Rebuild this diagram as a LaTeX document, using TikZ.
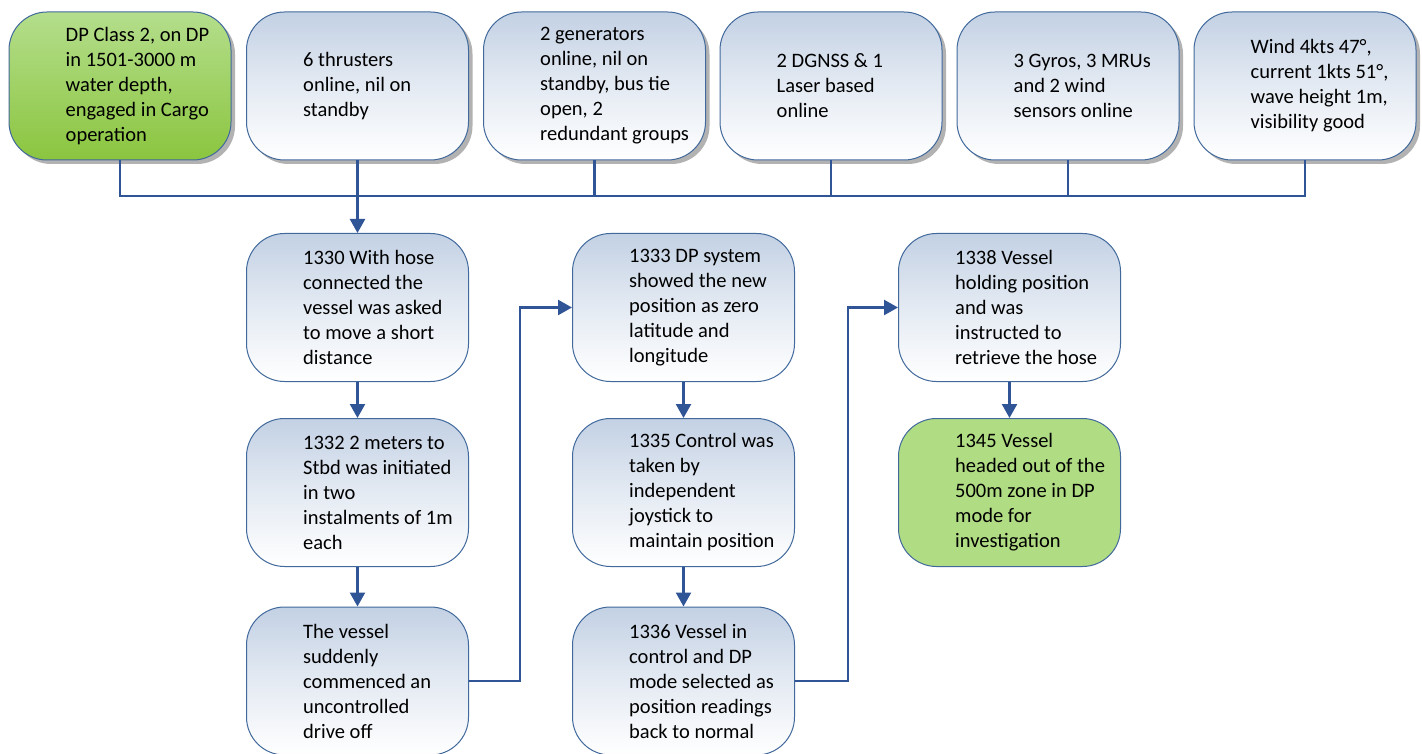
\documentclass[tikz,border=0pt]{standalone}
\usepackage{fontspec}
\setmainfont{Carlito}
\usetikzlibrary{arrows.meta,shadows}
\definecolor{lineblue}{HTML}{2F5597}
\definecolor{edgeblue}{HTML}{41699C}
\definecolor{boxtop}{HTML}{C3D1E4}
\definecolor{gtop}{HTML}{B4DE8C}
\definecolor{gbot}{HTML}{8BC53F}
\definecolor{gflat}{HTML}{B0DC83}
\tikzset{
  boxbase/.style={draw=edgeblue, line width=1pt, rounded corners=38pt,
    minimum width=222pt, minimum height=148pt, inner sep=0pt},
  bluebox/.style={boxbase, top color=boxtop, bottom color=white, middle color=boxtop!45!white},
  greenbox/.style={boxbase, top color=gtop, bottom color=gbot},
  flatgreen/.style={boxbase, fill=gflat},
  shad/.style={drop shadow={shadow xshift=4pt, shadow yshift=-4pt, fill=black, opacity=0.3}},
  txt/.style={anchor=west, align=left, inner sep=0pt, font=\fontsize{20.5}{25}\selectfont},
  conn/.style={draw=lineblue, line width=2.4pt},
  arr/.style={conn, -{Triangle[width=15pt,length=14pt]}}
}
\begin{document}
\begin{tikzpicture}[x=1pt,y=-1pt]
\useasboundingbox (0,0) rectangle (1422,754);
% top row
\node[greenbox,shad] (t1) at (120,86) {};
\node[bluebox,shad] (t2) at (357.5,86) {};
\node[bluebox,shad] (t3) at (594.5,86) {};
\node[bluebox,shad] (t4) at (831,86) {};
\node[bluebox,shad] (t5) at (1068,86) {};
\node[bluebox,shad] (t6) at (1305,86) {};
\node[txt] (x1) at ([xshift=57pt]t1.west) {DP Class 2, on DP\\in 1501-3000 m\\water depth,\\engaged in Cargo\\operation};
\node[txt] (x2) at ([xshift=57pt]t2.west) {6 thrusters\\online, nil on\\standby};
\node[txt] (x3) at ([xshift=57pt]t3.west) {2 generators\\online, nil on\\standby, bus tie\\open, 2\\redundant groups};
\node[txt] (x4) at ([xshift=57pt]t4.west) {2 DGNSS \& 1\\Laser based\\online};
\node[txt] (x5) at ([xshift=57pt]t5.west) {3 Gyros, 3 MRUs\\and 2 wind\\sensors online};
\node[txt] (x6) at ([xshift=57pt]t6.west) {Wind 4kts 47°,\\current 1kts 51°,\\wave height 1m,\\visibility good};
% lower boxes
\node[bluebox] (a) at (357.5,307.5) {};
\node[bluebox] (b) at (357.5,492.5) {};
\node[bluebox] (c) at (357.5,681) {};
\node[bluebox] (d) at (683.5,307.5) {};
\node[bluebox] (e) at (683.5,492.5) {};
\node[bluebox] (f) at (683.5,681) {};
\node[bluebox] (g) at (1009.5,307.5) {};
\node[flatgreen] (h) at (1009.5,492.5) {};
\node[txt] (xa) at ([xshift=57pt]a.west) {1330 With hose\\connected the\\vessel was asked\\to move a short\\distance};
\node[txt] (xb) at ([xshift=57pt]b.west) {1332 2 meters to\\Stbd was initiated\\in two\\instalments of 1m\\each};
\node[txt] (xc) at ([xshift=57pt]c.west) {The vessel\\suddenly\\commenced an\\uncontrolled\\drive off};
\node[txt] (xd) at ([xshift=57pt]d.west) {1333 DP system\\showed the new\\position as zero\\latitude and\\longitude};
\node[txt] (xe) at ([xshift=57pt]e.west) {1335 Control was\\taken by\\independent\\joystick to\\maintain position};
\node[txt] (xf) at ([xshift=57pt]f.west) {1336 Vessel in\\control and DP\\mode selected as\\position readings\\back to normal};
\node[txt] (xg) at ([xshift=57pt]g.west) {1338 Vessel\\holding position\\and was\\instructed to\\retrieve the hose};
\node[txt] (xh) at ([xshift=57pt]h.west) {1345 Vessel\\headed out of the\\500m zone in DP\\mode for\\investigation};
% bus
\coordinate (bus) at (0,196);
\draw[conn] (t1.south) -- (t1.south |- bus) -- (t6.south |- bus) -- (t6.south);
\draw[conn] (t3.south) -- (t3.south |- bus);
\draw[conn] (t4.south) -- (t4.south |- bus);
\draw[conn] (t5.south) -- (t5.south |- bus);
\draw[arr] (t2.south) -- (a.north);
% flow
\draw[arr] (a.south) -- (b.north);
\draw[arr] (b.south) -- (c.north);
\draw[arr] (d.south) -- (e.north);
\draw[arr] (e.south) -- (f.north);
\draw[arr] (g.south) -- (h.north);
\draw[arr] (c.east) -- ++(51,0) |- (d.west);
\draw[arr] (f.east) -- ++(53,0) |- (g.west);
\end{tikzpicture}
\end{document}
